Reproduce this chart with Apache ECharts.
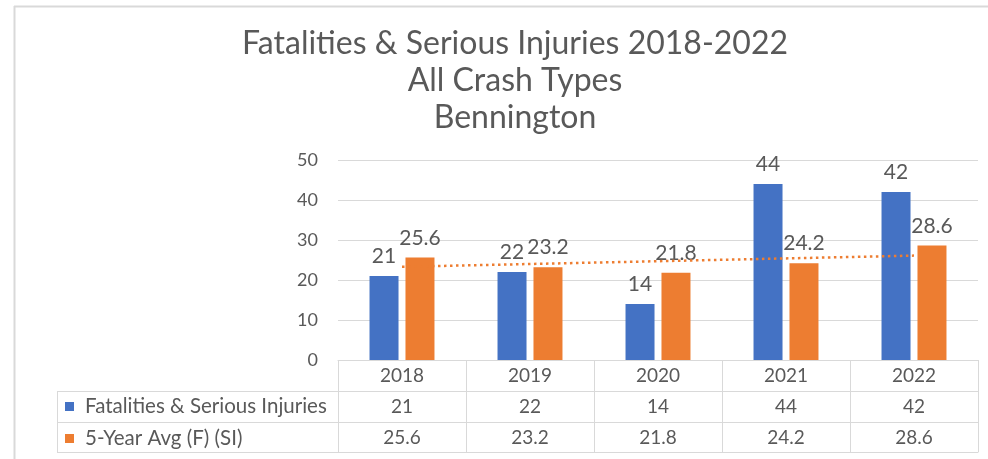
<!DOCTYPE html>
<html>
<head>
<meta charset="utf-8">
<script src="https://cdn.jsdelivr.net/npm/echarts@6/dist/echarts.min.js"></script>
<style>
html,body{margin:0;padding:0;background:#fff;}
#chart{width:988px;height:459px;}
</style>
</head>
<body>
<div id="chart"></div>
<script>
const titleLines = ['Fatalities & Serious Injuries 2018-2022', 'All Crash Types', 'Bennington'];
const categories = ['2018', '2019', '2020', '2021', '2022'];
const seriesNames = ['Fatalities & Serious Injuries', '5-Year Avg (F) (SI)'];
const fsiValues = [21, 22, 14, 44, 42];
const avgValues = [25.6, 23.2, 21.8, 24.2, 28.6];
// Linear trendline of the 5-year average, read at first and last category
const trendValues = [23.3, null, null, null, 26.1];
const yTicks = [0, 10, 20, 30, 40, 50];

const FONT = 'Lato';
const TXT = '#595959';
const GRID = '#d9d9d9';
const BLUE = '#4472C4';
const ORANGE = '#ED7D31';

const chart = echarts.init(document.getElementById('chart'), null, {renderer: 'canvas'});

const gridLeft = 338, gridRight = 10, gridTop = 160, gridBottom = 99;
const rowH = [31, 31, 30];

function tableAxis(labels, offset, showLabel) {
  return {
    type: 'category',
    data: labels,
    position: 'bottom',
    offset: offset,
    boundaryGap: true,
    axisLine: {show: true, lineStyle: {color: GRID, width: 1}},
    axisTick: {show: false},
    axisLabel: {show: showLabel, margin: 6, color: TXT, fontFamily: FONT, fontSize: 19},
    splitLine: {show: false}
  };
}

const option = {
  backgroundColor: '#fff',
  animation: false,
  textStyle: {fontFamily: FONT},
  title: {
    text: titleLines.join('\n'),
    left: 510,
    textAlign: 'center',
    top: 20,
    textStyle: {color: TXT, fontFamily: FONT, fontSize: 32, fontWeight: 'normal', lineHeight: 37}
  },
  legend: {
    data: seriesNames,
    orient: 'vertical',
    left: 65,
    top: 396,
    padding: 0,
    itemGap: 11,
    itemWidth: 9,
    itemHeight: 9,
    icon: 'rect',
    textStyle: {color: TXT, fontFamily: FONT, fontSize: 20.5, lineHeight: 20, padding: [0,0,0,6]}
  },
  grid: {left: gridLeft, right: gridRight, top: gridTop, bottom: gridBottom, containLabel: false},
  xAxis: [
    {
      type: 'category',
      data: categories,
      position: 'bottom',
      boundaryGap: true,
      axisLine: {show: true, lineStyle: {color: GRID, width: 1}},
      axisTick: {show: true, length: 92, lineStyle: {color: GRID, width: 1}},
      axisLabel: {margin: 6, color: TXT, fontFamily: FONT, fontSize: 19},
      splitLine: {show: false}
    },
    tableAxis(fsiValues.map(String), rowH[0], true),
    tableAxis(avgValues.map(v => v.toFixed(1)), rowH[0] + rowH[1], true),
    tableAxis(categories.map(() => ''), rowH[0] + rowH[1] + rowH[2], false)
  ],
  yAxis: {
    type: 'value',
    min: 0,
    max: yTicks[yTicks.length - 1],
    interval: yTicks[1] - yTicks[0],
    axisLine: {show: false},
    axisTick: {show: false},
    axisLabel: {margin: 20, color: TXT, fontFamily: FONT, fontSize: 18},
    splitLine: {lineStyle: {color: GRID, width: 1}}
  },
  series: [
    {
      name: seriesNames[0],
      type: 'bar',
      data: fsiValues,
      barWidth: 29,
      barGap: '24%',
      itemStyle: {color: BLUE},
      label: {show: true, position: 'top', distance: 9, color: TXT, fontFamily: FONT, fontSize: 21}
    },
    {
      name: seriesNames[1],
      type: 'bar',
      data: avgValues,
      barWidth: 29,
      barGap: '24%',
      itemStyle: {color: ORANGE},
      label: {show: true, position: 'top', distance: 9, color: TXT, fontFamily: FONT, fontSize: 21,
        formatter: p => p.value.toFixed(1)}
    },
    {
      name: 'Linear (5-Year Avg (F) (SI))',
      type: 'line',
      data: trendValues,
      connectNulls: true,
      symbol: 'none',
      z: 5,
      lineStyle: {color: ORANGE, width: 2.5, type: [2.5, 3.5]}
    }
  ],
  graphic: [
    {type: 'line', shape: {x1: 14, y1: 6.5, x2: 988, y2: 6.5}, style: {stroke: '#d9d9d9', lineWidth: 2}},
    {type: 'line', shape: {x1: 14.5, y1: 6, x2: 14.5, y2: 459}, style: {stroke: '#d9d9d9', lineWidth: 2}},
    // left (legend) part of the data table
    {type: 'line', shape: {x1: 57, y1: 391.5, x2: gridLeft, y2: 391.5}, style: {stroke: GRID, lineWidth: 1}},
    {type: 'line', shape: {x1: 57, y1: 422.5, x2: gridLeft, y2: 422.5}, style: {stroke: GRID, lineWidth: 1}},
    {type: 'line', shape: {x1: 57, y1: 452.5, x2: gridLeft, y2: 452.5}, style: {stroke: GRID, lineWidth: 1}},
    {type: 'line', shape: {x1: 57.5, y1: 391, x2: 57.5, y2: 453}, style: {stroke: GRID, lineWidth: 1}}
  ]
};

chart.setOption(option);
</script>
</body>
</html>
